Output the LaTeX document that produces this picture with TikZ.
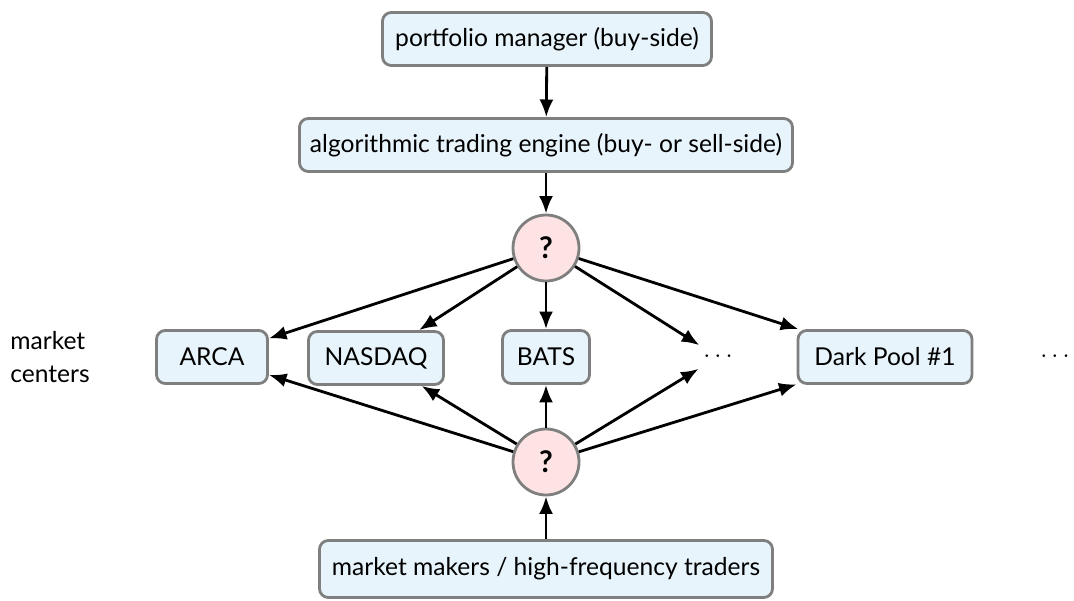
\documentclass[tikz,border=0pt]{standalone}
\usepackage{fontspec}
\setmainfont{Lato}
\usepackage{tikz}
\usetikzlibrary{arrows.meta}

\definecolor{boxfill}{HTML}{E7F4FB}
\definecolor{qfill}{HTML}{FDE3E3}
\definecolor{rim}{HTML}{7F7F7F}

\begin{document}
\begin{tikzpicture}[font=\fontsize{14}{16}\selectfont]
		\useasboundingbox (0,0) rectangle (21.48,-12.02);
		\begin{scope}[every node/.style={rectangle,rounded corners=5pt,draw=rim,line width=1.6pt,fill=boxfill,minimum height=1.06cm,inner xsep=0.2cm}]
			\node[minimum width=6.58cm] (pm) at (10.94,-0.78) {portfolio manager (buy-side)};
			\node[minimum width=9.86cm] (engine) at (10.92,-2.90) {algorithmic trading engine (buy- or sell-side)};
			\node[minimum width=2.22cm] (arca) at (4.24,-7.14) {ARCA};
			\node[minimum width=2.70cm] (nasdaq) at (7.52,-7.16) {NASDAQ};
			\node[minimum width=1.74cm] (bats) at (10.92,-7.14) {BATS};
			\node[minimum width=3.48cm] (dark) at (17.70,-7.14) {Dark Pool \#1};
			\node[minimum width=9.06cm,minimum height=1.14cm] (mm) at (10.92,-11.38) {market makers / high-frequency traders};
		\end{scope}

		\begin{scope}[every node/.style={circle,draw=rim,line width=1.6pt,fill=qfill,minimum size=1.32cm,font=\fontsize{17}{19}\selectfont\bfseries}]
			\node (q1) at (10.92,-4.96) {?};
			\node (q2) at (10.92,-9.24) {?};
		\end{scope}

		\node (dots1) at (14.36,-7.14) {$\cdots$};
		\node (dots2) at (21.10,-7.14) {$\cdots$};
		\node[align=left,font=\fontsize{14}{18.5}\selectfont] (mc) at (1.0,-7.14) {market\\centers};

		\begin{scope}[>={Latex[length=10pt,width=8pt]},
		              every edge/.style={draw=black,line width=1.6pt,->}]
			\path (pm) edge (engine);
			\path (engine) edge (q1);
			\path (q1) edge (arca);
			\path (q1) edge (nasdaq);
			\path (q1) edge (bats);
			\path (q1) edge (dots1);
			\path (q1) edge (dark);
			\path (q2) edge (arca);
			\path (q2) edge (nasdaq);
			\path (q2) edge (bats);
			\path (q2) edge (dots1);
			\path (q2) edge (dark);
			\path (mm) edge (q2);
		\end{scope}
\end{tikzpicture}
\end{document}
